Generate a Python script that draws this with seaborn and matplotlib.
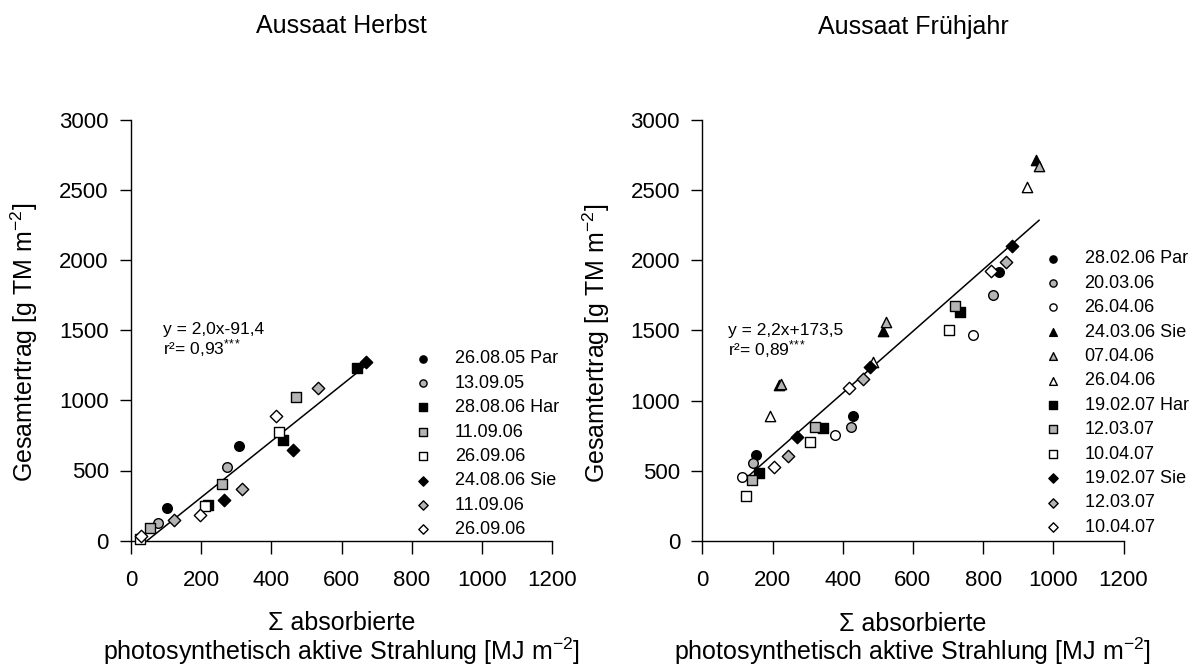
import matplotlib
matplotlib.use("Agg")
import matplotlib.pyplot as plt
import seaborn as sns
import numpy as np
import pandas as pd

# ---------------- data ----------------
# Aussaat Herbst (left)
h_labels = ["26.08.05 Par", "13.09.05", "28.08.06 Har", "11.09.06", "26.09.06",
            "24.08.06 Sie", "11.09.06 ", "26.09.06 "]
h_par05_x = [103, 307]
h_par05_y = [233, 677]
h_par13_x = [76, 274]
h_par13_y = [128, 527]
h_har28_x = [220, 432, 645]
h_har28_y = [256, 715, 1232]
h_har11_x = [54, 258, 469]
h_har11_y = [88, 402, 1023]
h_har26_x = [26, 210, 422]
h_har26_y = [14, 247, 774]
h_sie24_x = [265, 462, 670]
h_sie24_y = [290, 646, 1270]
h_sie11_x = [123, 317, 532]
h_sie11_y = [147, 370, 1085]
h_sie26_x = [29, 197, 412]
h_sie26_y = [33, 183, 890]
h_fit = [2.0, -91.4]
h_eq = "y = 2,0x-91,4\nr²= 0,93$^{*}$$^{*}$$^{*}$"

# Aussaat Frühjahr (right)
f_labels = ["28.02.06 Par", "20.03.06", "26.04.06", "24.03.06 Sie", "07.04.06",
            "26.04.06 ", "19.02.07 Har", "12.03.07", "10.04.07", "19.02.07 Sie",
            "12.03.07 ", "10.04.07 "]
f_par28_x = [152, 429, 846]
f_par28_y = [615, 888, 1913]
f_par20_x = [144, 423, 829]
f_par20_y = [553, 812, 1752]
f_par26_x = [112, 378, 771]
f_par26_y = [454, 755, 1465]
f_sie24_x = [219, 514, 951]
f_sie24_y = [1109, 1498, 2714]
f_sie07_x = [223, 524, 960]
f_sie07_y = [1116, 1558, 2671]
f_sie26_x = [192, 485, 926]
f_sie26_y = [892, 1277, 2521]
f_har19_x = [161, 344, 735]
f_har19_y = [482, 803, 1633]
f_har12_x = [142, 321, 720]
f_har12_y = [434, 810, 1676]
f_har10_x = [124, 306, 703]
f_har10_y = [320, 707, 1505]
f_sie19_x = [271, 479, 883]
f_sie19_y = [741, 1241, 2100]
f_sie12_x = [244, 457, 864]
f_sie12_y = [608, 1154, 1985]
f_sie10_x = [205, 418, 822]
f_sie10_y = [529, 1090, 1922]
f_fit = [2.2, 173.5]
f_eq = "y = 2,2x+173,5\nr²= 0,89$^{*}$$^{*}$$^{*}$"

titles = ["Aussaat Herbst", "Aussaat Frühjahr"]
x_ticks = [0, 200, 400, 600, 800, 1000, 1200]
y_ticks = [0, 500, 1000, 1500, 2000, 2500, 3000]
xlabel = "Σ absorbierte\nphotosynthetisch aktive Strahlung [MJ m$^{-2}$]"
ylabel = "Gesamtertrag [g TM m$^{-2}$]"

# ---------------- style ----------------
sns.set_theme(style="white")
plt.rcParams["font.family"] = ["Liberation Sans", "DejaVu Sans"]
plt.rcParams["mathtext.fontset"] = "custom"
plt.rcParams["mathtext.rm"] = "Liberation Sans"
plt.rcParams["mathtext.it"] = "Liberation Sans:italic"
plt.rcParams["mathtext.bf"] = "Liberation Sans:bold"
for k in ["text.color", "axes.labelcolor", "xtick.color", "ytick.color",
          "axes.edgecolor"]:
    plt.rcParams[k] = "black"

BLACK, GRAY, WHITE = "#000000", "#b4b4b4", "#ffffff"

h_series = [
    (h_par05_x, h_par05_y, "o", BLACK),
    (h_par13_x, h_par13_y, "o", GRAY),
    (h_har28_x, h_har28_y, "s", BLACK),
    (h_har11_x, h_har11_y, "s", GRAY),
    (h_har26_x, h_har26_y, "s", WHITE),
    (h_sie24_x, h_sie24_y, "D", BLACK),
    (h_sie11_x, h_sie11_y, "D", GRAY),
    (h_sie26_x, h_sie26_y, "D", WHITE),
]
f_series = [
    (f_par28_x, f_par28_y, "o", BLACK),
    (f_par20_x, f_par20_y, "o", GRAY),
    (f_par26_x, f_par26_y, "o", WHITE),
    (f_sie24_x, f_sie24_y, "^", BLACK),
    (f_sie07_x, f_sie07_y, "^", GRAY),
    (f_sie26_x, f_sie26_y, "^", WHITE),
    (f_har19_x, f_har19_y, "s", BLACK),
    (f_har12_x, f_har12_y, "s", GRAY),
    (f_har10_x, f_har10_y, "s", WHITE),
    (f_sie19_x, f_sie19_y, "D", BLACK),
    (f_sie12_x, f_sie12_y, "D", GRAY),
    (f_sie10_x, f_sie10_y, "D", WHITE),
]
msize = {"o": 48, "s": 50, "D": 40, "^": 55}

W, H = 1198, 667
fig = plt.figure(figsize=(W / 100, H / 100), dpi=100)
ax_l = fig.add_axes([131 / W, 1 - 540.7 / H, 421.2 / W, 421.2 / H])
ax_r = fig.add_axes([702.3 / W, 1 - 541 / H, 421.2 / W, 421.2 / H])

panels = [
    (ax_l, h_series, h_labels, h_fit, h_eq, titles[0], (91, 1560), (0.672, 0.452)),
    (ax_r, f_series, f_labels, f_fit, f_eq, titles[1], (73, 1555), (0.811, 0.690)),
]

for ax, series, labels, fit, eq, title, eqpos, legpos in panels:
    allx = []
    for (xs, ys, mk, col), lab in zip(series, labels):
        df = pd.DataFrame({"x": xs, "y": ys})
        sns.scatterplot(data=df, x="x", y="y", ax=ax, marker=mk, color=col,
                        edgecolor="black", linewidth=1.0, s=msize[mk],
                        label=lab, zorder=3, clip_on=False)
        allx += xs
    a, b = fit
    x0 = max(min(allx), -b / a)
    x1 = max(allx)
    xl = np.array([x0, x1])
    sns.lineplot(x=xl, y=a * xl + b, ax=ax, color="black", linewidth=1.1,
                 legend=False, zorder=2)
    ax.text(eqpos[0], eqpos[1], eq, fontsize=12.5, va="top", ha="left",
            linespacing=1.0, color="black")

    ax.set_xlim(0, 1200)
    ax.set_ylim(0, 3000)
    ax.set_xticks(x_ticks)
    ax.set_yticks(y_ticks)
    ax.set_xticklabels([str(t) for t in x_ticks])
    ax.set_yticklabels([str(t) for t in y_ticks])
    ax.tick_params(axis="x", length=9, width=1, pad=12, labelsize=16,
                   color="black", labelcolor="black", direction="out", bottom=True)
    ax.tick_params(axis="y", length=8, width=1, pad=8, labelsize=16,
                   color="black", labelcolor="black", direction="out", left=True)
    for side in ["top", "right"]:
        ax.spines[side].set_visible(False)
    for side in ["left", "bottom"]:
        ax.spines[side].set_color("black")
        ax.spines[side].set_linewidth(1.0)

    ax.set_xlabel(xlabel, fontsize=18, linespacing=1.0, color="black")
    ax.xaxis.set_label_coords(0.5, -0.168)
    ax.set_ylabel(ylabel, fontsize=18, color="black")
    ax.yaxis.set_label_coords(-0.215, 0.47)
    ax.set_title(title, fontsize=18, pad=62, color="black")

    leg = ax.legend(loc="upper left", bbox_to_anchor=legpos, frameon=False,
                    fontsize=13, handlelength=1.0, handletextpad=1.25,
                    borderpad=0, borderaxespad=0, labelspacing=0.41,
                    markerscale=0.75)
    for t in leg.get_texts():
        t.set_color("black")

fig.savefig("out.png", dpi=100)
